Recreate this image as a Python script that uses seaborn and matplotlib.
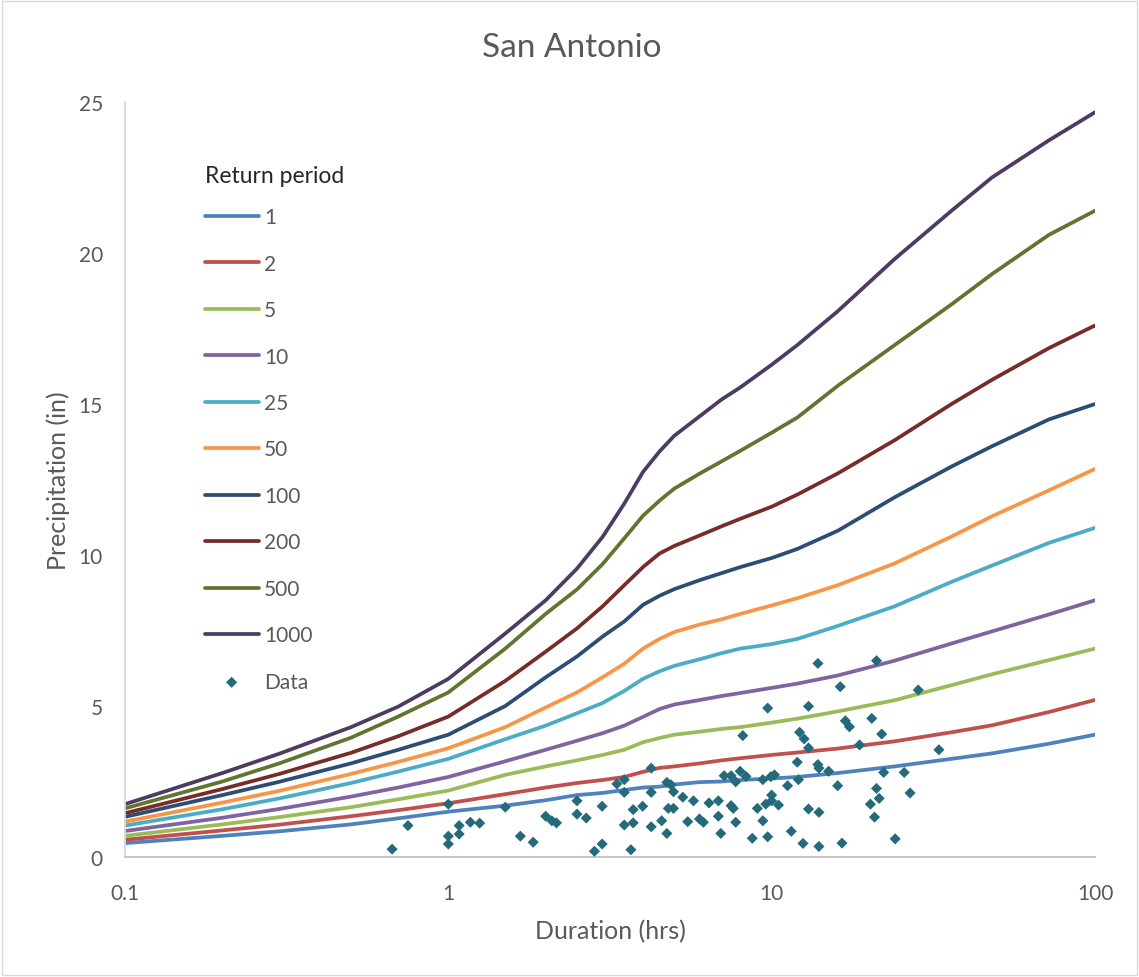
import matplotlib
matplotlib.use("Agg")
import matplotlib.pyplot as plt
import seaborn as sns
import numpy as np
import pandas as pd

# IDF curves, precipitation depth (in) by duration (hrs)
durations = [0.1, 0.2, 0.3, 0.5, 0.7, 1, 1.5, 2, 2.5, 3, 3.5, 4, 4.5, 5, 6, 7, 8,
             10, 12, 16, 24, 36, 48, 72, 100]

rp_1 = [0.46, 0.70, 0.85, 1.08, 1.28, 1.50, 1.70, 1.88, 2.05, 2.12, 2.22, 2.30, 2.33,
        2.40, 2.48, 2.50, 2.55, 2.60, 2.65, 2.78, 3.00, 3.25, 3.43, 3.75, 4.05]
rp_2 = [0.57, 0.88, 1.07, 1.35, 1.55, 1.78, 2.08, 2.30, 2.45, 2.55, 2.65, 2.82, 2.95,
        3.00, 3.10, 3.20, 3.27, 3.38, 3.46, 3.59, 3.83, 4.13, 4.36, 4.80, 5.20]
rp_5 = [0.70, 1.08, 1.32, 1.65, 1.91, 2.20, 2.72, 3.00, 3.20, 3.38, 3.55, 3.80, 3.94,
        4.05, 4.15, 4.24, 4.30, 4.45, 4.58, 4.82, 5.19, 5.69, 6.05, 6.52, 6.90]
rp_10 = [0.86, 1.30, 1.59, 2.00, 2.30, 2.65, 3.17, 3.55, 3.85, 4.10, 4.35, 4.64, 4.90,
         5.05, 5.20, 5.33, 5.43, 5.60, 5.74, 6.01, 6.50, 7.07, 7.47, 8.03, 8.50]
rp_25 = [1.04, 1.58, 1.94, 2.45, 2.83, 3.25, 3.90, 4.35, 4.76, 5.10, 5.50, 5.90, 6.15,
         6.33, 6.55, 6.75, 6.90, 7.05, 7.22, 7.65, 8.30, 9.11, 9.65, 10.40, 10.90]
rp_50 = [1.17, 1.80, 2.19, 2.75, 3.15, 3.60, 4.30, 4.95, 5.45, 5.95, 6.40, 6.90, 7.22,
         7.45, 7.70, 7.87, 8.05, 8.33, 8.57, 9.00, 9.72, 10.61, 11.28, 12.14, 12.85]
rp_100 = [1.33, 2.05, 2.49, 3.10, 3.55, 4.05, 5.00, 5.95, 6.64, 7.30, 7.80, 8.35, 8.65,
          8.87, 9.17, 9.40, 9.60, 9.90, 10.20, 10.80, 11.91, 12.93, 13.60, 14.49, 15.00]
rp_200 = [1.45, 2.25, 2.75, 3.45, 4.00, 4.65, 5.83, 6.80, 7.57, 8.30, 9.00, 9.60, 10.05,
          10.30, 10.65, 10.95, 11.20, 11.60, 12.00, 12.70, 13.80, 15.00, 15.80, 16.85, 17.60]
rp_500 = [1.61, 2.50, 3.10, 3.95, 4.65, 5.45, 6.90, 8.05, 8.86, 9.70, 10.55, 11.30, 11.80,
          12.20, 12.70, 13.10, 13.45, 14.05, 14.55, 15.60, 16.95, 18.30, 19.30, 20.60, 21.40]
rp_1000 = [1.75, 2.78, 3.42, 4.30, 4.98, 5.90, 7.40, 8.50, 9.55, 10.60, 11.70, 12.75, 13.43,
           13.95, 14.60, 15.15, 15.55, 16.30, 16.95, 18.07, 19.80, 21.40, 22.50, 23.73, 24.66]

return_periods = ['1', '2', '5', '10', '25', '50', '100', '200', '500', '1000']
curves = [rp_1, rp_2, rp_5, rp_10, rp_25, rp_50, rp_100, rp_200, rp_500, rp_1000]
colors = ['#4F81BD', '#C0504D', '#9BBB59', '#8064A2', '#4BACC6',
          '#F79646', '#2C4D75', '#772C2A', '#5F7530', '#4D3B62']

# observed storms
obs_duration = [0.67, 0.75, 1.0, 1.0, 1.0, 1.08, 1.08, 1.17, 1.25, 1.50, 1.67, 1.83,
                2.00, 2.09, 2.16, 2.50, 2.50, 2.67, 2.83, 2.99, 2.99, 3.32, 3.50, 3.50,
                3.50, 3.67, 3.73, 3.73, 3.99, 4.24, 4.24, 4.24, 4.57, 4.74, 4.79, 4.74,
                4.88, 4.97, 4.97, 5.31, 5.50, 5.73, 5.98, 6.15, 6.40, 6.84, 6.84, 6.96,
                7.13, 7.49, 7.49, 7.61, 7.74, 7.74, 7.99, 8.14, 8.33, 8.71, 9.03, 9.39,
                9.39, 9.59, 9.72, 9.72, 9.94, 10.0, 10.0, 10.2, 10.5, 11.2, 11.5, 12.0,
                12.1, 12.2, 12.6, 13.0, 13.0, 13.0, 12.5, 13.9, 13.9, 14.0, 14.0, 14.0,
                15.0, 16.0, 16.3, 16.5, 16.9, 17.4, 18.7, 20.4, 21.1, 21.1, 21.5, 20.2,
                20.8, 21.9, 22.2, 24.1, 25.7, 26.8, 28.4, 32.9]
obs_precip = [0.26, 1.04, 1.75, 0.69, 0.43, 1.04, 0.76, 1.15, 1.12, 1.65, 0.69, 0.49,
              1.35, 1.20, 1.13, 1.86, 1.42, 1.29, 0.19, 1.68, 0.43, 2.42, 2.56, 2.14,
              1.06, 0.24, 1.57, 1.13, 1.68, 2.94, 2.14, 1.00, 1.20, 2.47, 1.61, 0.78,
              2.39, 2.16, 1.61, 1.98, 1.17, 1.86, 1.26, 1.15, 1.79, 1.86, 1.35, 0.78,
              2.69, 2.69, 1.70, 1.61, 2.49, 1.15, 2.84, 4.02, 2.67, 0.62, 1.61, 2.56,
              1.20, 1.75, 4.93, 0.67, 2.66, 2.05, 1.86, 2.72, 1.72, 2.36, 0.85, 3.14,
              2.56, 4.13, 3.91, 4.99, 3.61, 1.59, 0.45, 6.41, 3.06, 2.94, 1.48, 0.35,
              2.84, 2.36, 5.64, 0.46, 4.51, 4.31, 3.71, 4.59, 6.50, 2.27, 1.94, 1.75,
              1.32, 4.07, 2.80, 0.60, 2.80, 2.12, 5.53, 3.55]

sns.set_style("white")
plt.rcParams['font.family'] = ['Lato', 'DejaVu Sans']

text_grey = '#595959'

fig = plt.figure(figsize=(11.39, 9.78), dpi=100)
ax = fig.add_axes([125 / 1139, 1 - 858 / 978, 970 / 1139, 755 / 978])

for rp, vals, c in zip(return_periods, curves, colors):
    sns.lineplot(x=durations, y=vals, color=c, linewidth=2.7, label=rp, ax=ax,
                 legend=False)

sns.scatterplot(x=obs_duration, y=obs_precip, marker='D', s=32, color='#256A7B',
                edgecolor='none', label='Data', ax=ax, legend=False, zorder=5)

ax.set_xscale('log')
ax.set_xlim(0.1, 100)
ax.set_ylim(0, 25)
ax.set_xticks([0.1, 1, 10, 100])
ax.set_xticklabels(['0.1', '1', '10', '100'])
ax.xaxis.set_minor_locator(matplotlib.ticker.NullLocator())
ax.set_yticks([0, 5, 10, 15, 20, 25])
ax.tick_params(axis='both', length=0, labelsize=15, labelcolor=text_grey)
ax.tick_params(axis='x', pad=19)
ax.tick_params(axis='y', pad=16)

for side in ['top', 'right']:
    ax.spines[side].set_visible(False)
ax.spines['left'].set_color('#D9D9D9')
ax.spines['left'].set_linewidth(1.3)
ax.spines['bottom'].set_color('#BFBFBF')
ax.spines['bottom'].set_linewidth(1.3)

ax.set_xlabel('Duration (hrs)', fontsize=18, color=text_grey, labelpad=11)
ax.set_ylabel('Precipitation (in)', fontsize=18, color=text_grey, labelpad=6)
fig.text(572 / 1139, 1 - 48 / 978, 'San Antonio', ha='center', va='center',
         fontsize=24, color=text_grey)

handles, labels = ax.get_legend_handles_labels()
leg = ax.legend(handles, labels, title='Return period', loc='upper left',
                bbox_to_anchor=(0.082, 0.917), frameon=False, fontsize=15,
                title_fontsize=16.5, alignment='left', handlelength=2.6,
                handletextpad=0.25, labelspacing=1.27, borderpad=0,
                borderaxespad=0)
leg._legend_box.sep = 15.5  # tighter gap under the legend title
for t in leg.get_texts():
    t.set_color(text_grey)

fig.patches.append(plt.Rectangle((0.002, 0.002), 0.996, 0.996, transform=fig.transFigure,
                                 fill=False, edgecolor='#D9D9D9', linewidth=1))

fig.savefig('out.png', dpi=100)
